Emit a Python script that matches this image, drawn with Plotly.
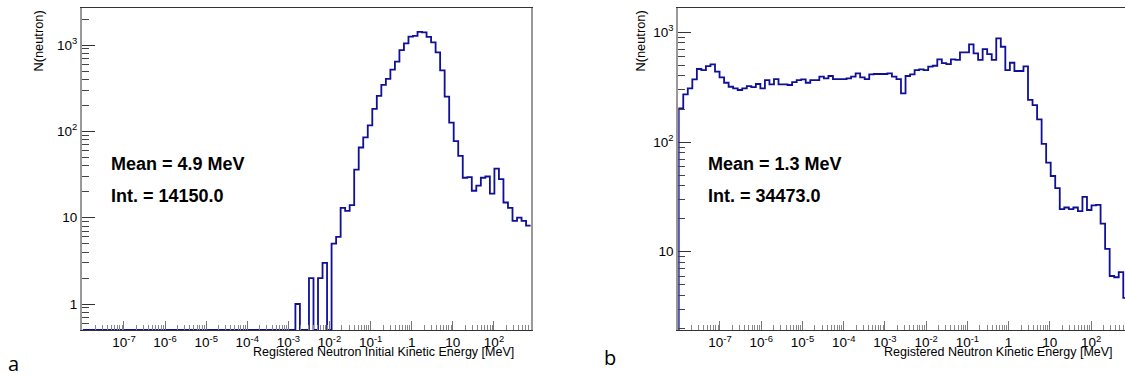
import numpy as np
import plotly.graph_objects as go

# ---------------- data ----------------
# log10 bin layout (100 bins, 0.11 decade each, starting at 1e-8 MeV)
bin_log_start = -8.0
bin_log_width = 0.11

# Panel a: Registered neutron initial kinetic energy, counts per bin (bins 0..98)
counts_a = [0] * 47 + [
    1, 0, 0, 2, 0, 2, 3, 0, 5, 6,          # bins 47-56
    13, 12, 14, 36, 65, 85, 117, 182, 257, 345,   # 57-66
    405, 518, 641, 875, 1045, 1250, 1280, 1420, 1400, 1240,  # 67-76
    1075, 820, 510, 252, 126, 77, 52, 29, 29.5, 20.5,  # 77-86
    23.5, 29, 30, 19, 37, 28, 15, 13, 9.2, 10,   # 87-96
    9.2, 8.1,                                  # 97-98
]

# Panel b: Registered neutron kinetic energy, counts per bin (bins 0..98)
counts_b = [
    203, 272, 309, 373, 463, 453, 493, 511, 438, 389,
    347, 319, 309, 298, 309, 324, 317, 338, 309, 367,
    335, 375, 335, 335, 331, 352, 367, 372, 347, 367,
    367, 394, 380, 400, 375, 375, 375, 380, 394, 423,
    389, 375, 414, 417, 417, 417, 423, 394, 375, 278,
    400, 414, 453, 460, 453, 486, 496, 568, 525, 514,
    568, 560, 657, 657, 777, 643, 560, 704, 634, 560,
    882, 739, 453, 528, 444, 444, 490, 242, 217, 161,
    96, 65, 49, 38, 24.4, 25.3, 24.4, 25.3, 23.4, 31.6,
    24, 26.4, 26.7, 18, 10.6, 6.0, 5.85, 6.5, 3.8,
]

stat_a = ["Mean = 4.9 MeV", "Int. = 14150.0"]
stat_b = ["Mean = 1.3 MeV", "Int. = 34473.0"]
xtitle_a = "Registered Neutron Initial Kinetic Energy [MeV]"
xtitle_b = "Registered Neutron Kinetic Energy [MeV]"
ytitle = "N(neutron)"
panel_labels = ["a", "b"]

x_decades = list(range(-7, 3))
x_ticktext = ["10<sup>-%d</sup>" % (-d) if d < 0 else ("1" if d == 0 else ("10" if d == 1 else "10<sup>%d</sup>" % d)) for d in x_decades]
ya_vals = [1, 10, 100, 1000]
ya_text = ["1", "10", "10<sup>2</sup>", "10<sup>3</sup>"]
yb_vals = [10, 100, 1000]
yb_text = ["10", "10<sup>2</sup>", "10<sup>3</sup>"]

# ---------------- styling / geometry ----------------
W, H = 1125, 376
HIST_COLOR = "#0f0f98"
FONT = "Liberation Sans, Arial, sans-serif"
ylo_a, yhi_a = 0.5, 10 ** 3.429
ylo_b, yhi_b = 10 ** 0.286, 10 ** 3.222


def hist_xy(counts, floor):
    n = len(counts)
    edges = 10 ** (bin_log_start + bin_log_width * np.arange(n + 1))
    vals = np.array(counts, dtype=float)
    vals = np.where(vals > 0, vals, floor)
    xs = np.concatenate([[edges[0]], edges])
    ys = np.concatenate([[floor], vals, [vals[-1]]])
    return xs, ys


fig = go.Figure()
xa, ya = hist_xy(counts_a, ylo_a)
xb, yb = hist_xy(counts_b, ylo_b)
fig.add_trace(go.Scatter(x=xa, y=ya, mode="lines", line=dict(shape="hv", color=HIST_COLOR, width=1.8),
                         xaxis="x", yaxis="y", showlegend=False, hoverinfo="skip"))
fig.add_trace(go.Scatter(x=xb, y=yb, mode="lines", line=dict(shape="hv", color=HIST_COLOR, width=1.8),
                         xaxis="x2", yaxis="y2", showlegend=False, hoverinfo="skip"))

minor_x = [m * 10.0 ** d for d in range(-8, 3) for m in range(2, 10)]
minor_ya = [m * 10.0 ** d for d in range(-1, 4) for m in range(2, 10)]
minor_yb = [m * 10.0 ** d for d in range(0, 4) for m in range(2, 10)]

ydom = [46 / H, 368 / H]
tickfont = dict(family=FONT, size=13.5, color="#000")


def xaxis_cfg(domain, rng, anchor):
    return dict(
        domain=domain, type="log", range=rng, anchor=anchor,
        tickmode="array", tickvals=[10.0 ** d for d in x_decades], ticktext=x_ticktext,
        ticks="inside", ticklen=9, tickwidth=1, tickcolor="#777",
        minor=dict(tickmode="array", tickvals=minor_x, ticks="inside", ticklen=5, tickwidth=1, tickcolor="#888"),
        showline=True, linecolor="#333", linewidth=1, mirror=True,
        showgrid=False, zeroline=False, tickfont=tickfont,
    )


def yaxis_cfg(anchor, rng, vals, text, minor_vals, mirror):
    return dict(
        domain=ydom, type="log", range=rng, anchor=anchor,
        tickmode="array", tickvals=vals, ticktext=text,
        ticks="inside", ticklen=13, tickwidth=1, tickcolor="#333",
        minor=dict(tickmode="array", tickvals=minor_vals, ticks="inside", ticklen=7, tickwidth=1, tickcolor="#444"),
        showline=True, linecolor="#999", linewidth=2, mirror=mirror,
        showgrid=False, zeroline=False, tickfont=tickfont,
    )


fig.update_layout(
    width=W, height=H, margin=dict(l=0, r=0, t=0, b=0),
    paper_bgcolor="white", plot_bgcolor="white",
    xaxis=xaxis_cfg([82 / W, 531 / W], [-8.02, 2.90], "y"),
    xaxis2=xaxis_cfg([678.3 / W, 1.0], [-8.01, 2.822], "y2"),
    yaxis=yaxis_cfg("x", [np.log10(ylo_a), np.log10(yhi_a)], ya_vals, ya_text, minor_ya, True),
    yaxis2=yaxis_cfg("x2", [np.log10(ylo_b), np.log10(yhi_b)], yb_vals, yb_text, minor_yb, False),
)


def px_x(p):
    return p / W


def px_y(p):
    return 1 - p / H


ann = []
# stats boxes
for (x0, stats) in [(109, stat_a), (706, stat_b)]:
    for i, s in enumerate(stats):
        ann.append(dict(x=px_x(x0), y=px_y(163.5 + 32 * i), xref="paper", yref="paper", text="<b>%s</b>" % s,
                        showarrow=False, xanchor="left", yanchor="middle",
                        font=dict(family=FONT, size=18, color="#000")))
# x titles
for xr, t in [(516, xtitle_a), (1115, xtitle_b)]:
    ann.append(dict(x=px_x(xr), y=px_y(352), xref="paper", yref="paper", text=t, showarrow=False,
                    xanchor="right", yanchor="middle", font=dict(family=FONT, size=12.5, color="#000")))
# y titles
for xc in [38, 640]:
    ann.append(dict(x=px_x(xc), y=px_y(9), xref="paper", yref="paper", text=ytitle, showarrow=False,
                    textangle=-90, xanchor="center", yanchor="top", font=dict(family=FONT, size=12.8, color="#000")))
# panel labels
for (xl, yl), t in zip([(6, 363), (602, 357)], panel_labels):
    ann.append(dict(x=px_x(xl), y=px_y(yl), xref="paper", yref="paper", text=t, showarrow=False,
                    xanchor="left", yanchor="middle", font=dict(family="Open Sans, Noto Sans, sans-serif", size=20, color="#000")))
fig.update_layout(annotations=ann)

fig.write_html("out.html")
